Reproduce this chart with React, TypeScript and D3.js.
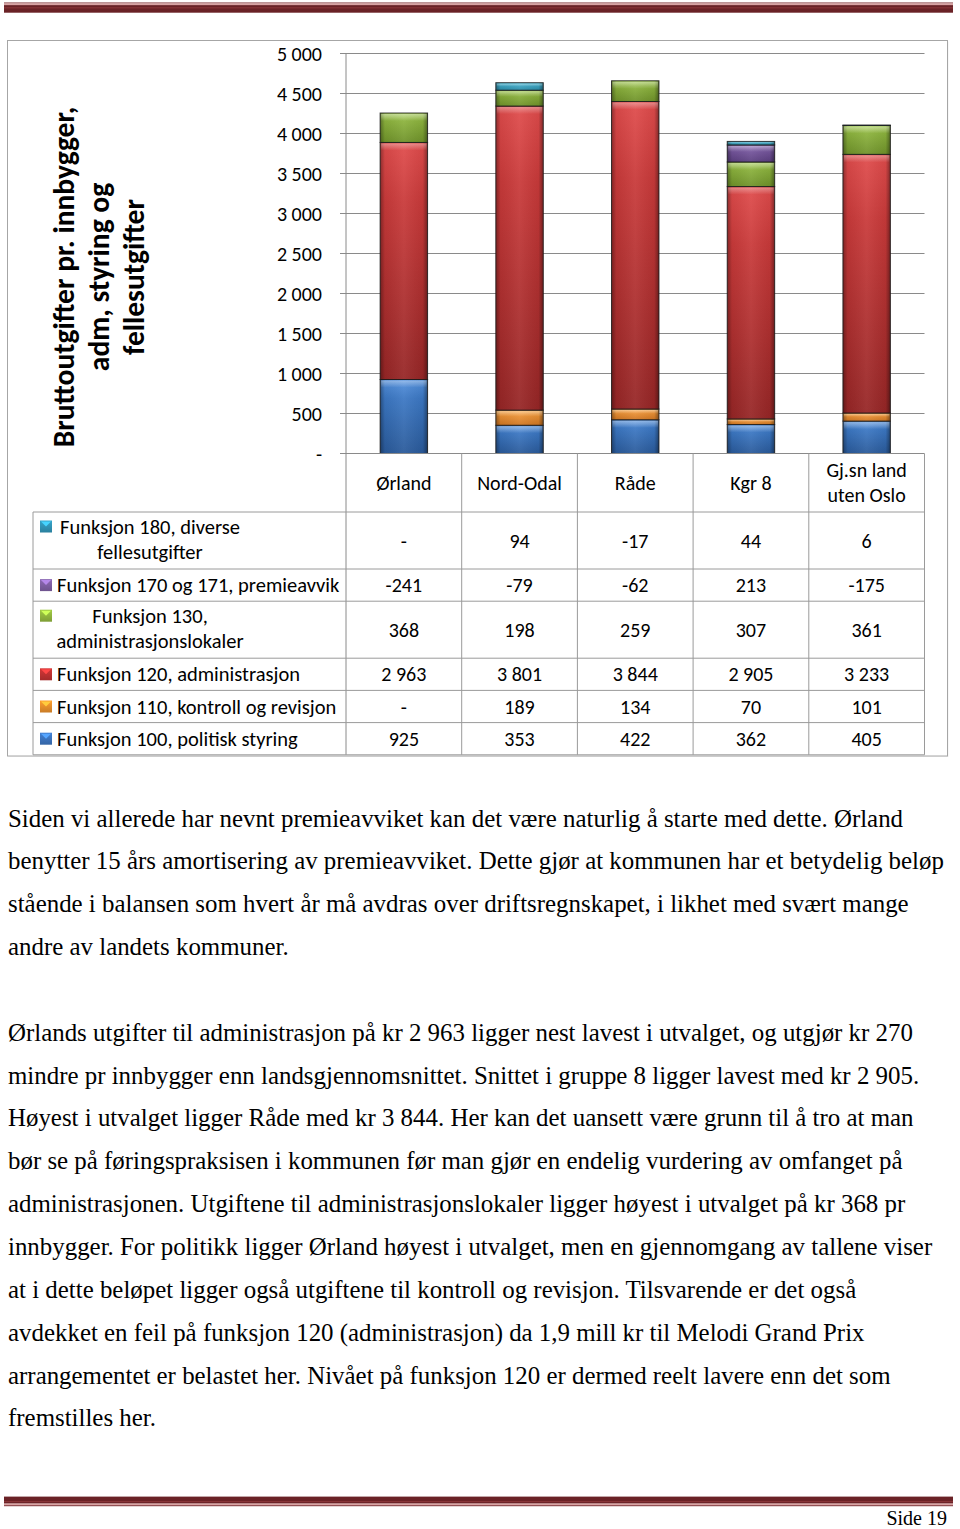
import React from "react";
import * as d3 from "d3";

// ---------- DATA ----------
const categories = ["Ørland", "Nord-Odal", "Råde", "Kgr 8", "Gj.sn land uten Oslo"];
const categoryLabelLines = [["Ørland"], ["Nord-Odal"], ["Råde"], ["Kgr 8"], ["Gj.sn land", "uten Oslo"]];

const f100 = [925, 353, 422, 362, 405];
const f110 = [null, 189, 134, 70, 101];
const f120 = [2963, 3801, 3844, 2905, 3233];
const f130 = [368, 198, 259, 307, 361];
const f170 = [-241, -79, -62, 213, -175];
const f180 = [null, 94, -17, 44, 6];

const yTicks = [0, 500, 1000, 1500, 2000, 2500, 3000, 3500, 4000, 4500, 5000];
const yTitleLines = ["Bruttoutgifter pr. innbygger,", "adm, styring og", "fellesutgifter"];

// stack order bottom -> top
const seriesKeys = ["f100", "f110", "f120", "f130", "f170", "f180"];
const seriesValues: Record<string, (number | null)[]> = { f100, f110, f120, f130, f170, f180 };
const seriesLabelLines: Record<string, string[]> = {
  f180: ["Funksjon 180, diverse", "fellesutgifter"],
  f170: ["Funksjon 170 og 171, premieavvik"],
  f130: ["Funksjon 130,", "administrasjonslokaler"],
  f120: ["Funksjon 120, administrasjon"],
  f110: ["Funksjon 110, kontroll og revisjon"],
  f100: ["Funksjon 100, politisk styring"],
};
// table order top -> bottom
const tableOrder = ["f180", "f170", "f130", "f120", "f110", "f100"];

const paragraph1 = [
  "Siden vi allerede har nevnt premieavviket kan det være naturlig å starte med dette. Ørland",
  "benytter 15 års amortisering av premieavviket. Dette gjør at kommunen har et betydelig beløp",
  "stående i balansen som hvert år må avdras over driftsregnskapet, i likhet med svært mange",
  "andre av landets kommuner.",
];
const paragraph2 = [
  "Ørlands utgifter til administrasjon på kr 2 963 ligger nest lavest i utvalget, og utgjør kr 270",
  "mindre pr innbygger enn landsgjennomsnittet. Snittet i gruppe 8 ligger lavest med kr 2 905.",
  "Høyest i utvalget ligger Råde med kr 3 844. Her kan det uansett være grunn til å tro at man",
  "bør se på føringspraksisen i kommunen før man gjør en endelig vurdering av omfanget på",
  "administrasjonen. Utgiftene til administrasjonslokaler ligger høyest i utvalget på kr 368 pr",
  "innbygger. For politikk ligger Ørland høyest i utvalget, men en gjennomgang av tallene viser",
  "at i dette beløpet ligger også utgiftene til kontroll og revisjon. Tilsvarende er det også",
  "avdekket en feil på funksjon 120 (administrasjon) da 1,9 mill kr til Melodi Grand Prix",
  "arrangementet er belastet her. Nivået på funksjon 120 er dermed reelt lavere enn det som",
  "fremstilles her.",
];
const pageLabel = "Side 19";

// ---------- STYLE ----------
const barColors: Record<string, [string, string, string]> = {
  f100: ["#5592de", "#3c78c4", "#2a5a9a"],
  f110: ["#fbb45a", "#f0983a", "#cf7622"],
  f120: ["#e04c4c", "#c93a3a", "#962626"],
  f130: ["#a9cf5c", "#8db43e", "#6f922a"],
  f170: ["#9676bd", "#7a5aa2", "#5b3f80"],
  f180: ["#66cbe4", "#45aecb", "#2a8aa6"],
};
const markerColors: Record<string, string> = {
  f180: "#2f8fb0",
  f170: "#7a5c9e",
  f130: "#8cb03c",
  f120: "#b83030",
  f110: "#e08a2a",
  f100: "#3a70b8",
};

const chartFont = "Calibri, Carlito, Lato, 'Open Sans', sans-serif";
const serifFont = "'Times New Roman', 'Liberation Serif', serif";

const locale = d3.formatLocale({ decimal: ",", thousands: " ", grouping: [3], currency: ["", ""], minus: "-" });
const fmtN = locale.format(",d");
const fmt = (v: number | null) => (v == null || v === 0 ? "-" : fmtN(v));

export default function App() {
  const W = 960;
  const H = 1529;
  const plotLeft = 346;
  const plotRight = 924.5;
  const plotTop = 53.5;
  const plotBottom = 453.5;
  const fs = 20;
  const fsLabel = 20.5;

  const y = d3.scaleLinear().domain([0, 5000]).range([plotBottom, plotTop]);
  const xCol = d3.scaleBand().domain(categories).range([plotLeft, plotRight]).padding(0);
  const xBar = d3
    .scaleBand()
    .domain(categories)
    .range([plotLeft, plotRight])
    .paddingInner(0.59)
    .paddingOuter(0.295);

  const rows = categories.map((c, i) => {
    const o: any = { cat: c };
    seriesKeys.forEach((k) => (o[k] = seriesValues[k][i] ?? 0));
    return o;
  });
  const stacked = d3.stack().keys(seriesKeys).offset(d3.stackOffsetDiverging)(rows);

  // table geometry
  const headerBottom = 512;
  const singleH = 32.2;
  const doubleH = 57;
  let acc = headerBottom;
  const tableRows = tableOrder.map((k) => {
    const h = seriesLabelLines[k].length > 1 ? doubleH : singleH;
    const r = { key: k, top: acc, h };
    acc += h;
    return r;
  });
  const tableBottom = acc;
  const labelLeft = 33;

  const gridColor = "#8a8a8a";
  const tableColor = "#9a9a9a";

  const baseLine = 826.5;
  const lineGap = 42.85;

  return (
    <svg
      width={W}
      height={H}
      viewBox={`0 0 ${W} ${H}`}
      style={{ position: "absolute", left: 0, top: 0, background: "#fff" }}
    >
      <defs>
        {seriesKeys.map((k) => (
          <linearGradient key={k} id={`g-${k}`} x1="0" y1="0" x2="0" y2="1">
            <stop offset="0" stopColor={barColors[k][0]} />
            <stop offset="0.25" stopColor={barColors[k][1]} />
            <stop offset="1" stopColor={barColors[k][2]} />
          </linearGradient>
        ))}
        <linearGradient id="hshade" x1="0" y1="0" x2="1" y2="0">
          <stop offset="0" stopColor="#000" stopOpacity="0.35" />
          <stop offset="0.1" stopColor="#000" stopOpacity="0.05" />
          <stop offset="0.5" stopColor="#fff" stopOpacity="0.06" />
          <stop offset="0.9" stopColor="#000" stopOpacity="0.05" />
          <stop offset="1" stopColor="#000" stopOpacity="0.4" />
        </linearGradient>
        <linearGradient id="topHi" x1="0" y1="0" x2="0" y2="1">
          <stop offset="0" stopColor="#fff" stopOpacity="0.35" />
          <stop offset="1" stopColor="#fff" stopOpacity="0" />
        </linearGradient>
        {tableOrder.map((k) => (
          <linearGradient key={k} id={`m-${k}`} x1="0" y1="0" x2="0" y2="1">
            <stop offset="0" stopColor={d3.color(markerColors[k])!.brighter(0.4).formatHex()} />
            <stop offset="1" stopColor={d3.color(markerColors[k])!.darker(0.3).formatHex()} />
          </linearGradient>
        ))}
        <clipPath id="plotClip">
          <rect x={plotLeft} y={plotTop - 2} width={plotRight - plotLeft} height={plotBottom - plotTop + 2} />
        </clipPath>
      </defs>

      <rect x={0} y={0} width={W} height={H} fill="#fff" />

      {/* header rule */}
      <g>
        <rect x={4} y={2.5} width={949} height={1} fill="#7a2a2e" />
        <rect x={4} y={3.5} width={949} height={1.6} fill="#d9a3a3" />
        <rect x={4} y={5.1} width={949} height={7.6} fill="#6a2226" />
        <rect x={4} y={7.4} width={949} height={0.9} fill="#8e3a3c" />
      </g>

      {/* chart frame */}
      <rect x={8.5} y={41.5} width={940} height={715.5} fill="#f2f2f2" />
      <rect x={7.5} y={40.5} width={940} height={715.5} fill="#fff" stroke="#a6a6a6" strokeWidth={1} />

      {/* y axis title */}
      <g transform={`translate(99, 277) rotate(-90)`}>
        {yTitleLines.map((t, i) => (
          <text
            key={i}
            x={0}
            y={(i - 1) * 35}
            textAnchor="middle"
            dominantBaseline="central"
            fontFamily={chartFont}
            fontWeight="bold"
            fontSize={29.5}
            fill="#000"
          >
            {t}
          </text>
        ))}
      </g>

      {/* gridlines */}
      {yTicks.map((t) => (
        <g key={t}>
          {t > 0 && <line x1={plotLeft} x2={plotRight} y1={y(t)} y2={y(t)} stroke={gridColor} strokeWidth={1} />}
          <line x1={plotLeft - 6} x2={plotLeft} y1={y(t)} y2={y(t)} stroke={gridColor} strokeWidth={1} />
          <text
            x={322}
            y={y(t)}
            textAnchor="end"
            dominantBaseline="central"
            fontFamily={chartFont}
            fontSize={fs}
            fill="#000"
          >
            {fmt(t)}
          </text>
        </g>
      ))}

      {/* bars */}
      <g clipPath="url(#plotClip)">
        {stacked.map((s) => {
          const k = s.key as string;
          return (
            <g key={k}>
              {s.map((d, i) => {
                const v0 = d[0];
                const v1 = d[1];
                if (!(v1 - v0 > 0) || v1 <= 0) return null;
                const cat = categories[i];
                const x = xBar(cat)!;
                const w = xBar.bandwidth();
                const yTop = y(v1);
                const yBot = y(Math.max(v0, 0));
                const h = yBot - yTop;
                return (
                  <g key={cat}>
                    <rect x={x} y={yTop} width={w} height={h} fill={`url(#g-${k})`} />
                    <rect x={x} y={yTop} width={w} height={h} fill="url(#hshade)" />
                    <rect x={x + 1} y={yTop + 1} width={w - 2} height={Math.min(7, h * 0.35)} fill="url(#topHi)" />
                    <rect
                      x={x}
                      y={yTop}
                      width={w}
                      height={h}
                      fill="none"
                      stroke="#1a1a1a"
                      strokeOpacity={0.85}
                      strokeWidth={1}
                    />
                  </g>
                );
              })}
            </g>
          );
        })}
      </g>

      {/* table lines */}
      <g stroke={tableColor} strokeWidth={1} fill="none">
        <line x1={plotLeft} x2={plotRight} y1={plotBottom} y2={plotBottom} stroke={gridColor} />
        <line x1={plotLeft} x2={plotLeft} y1={plotTop} y2={tableBottom} stroke={gridColor} />
        {categories.map((c) => (
          <line key={c} x1={xCol(c)! + xCol.bandwidth()} x2={xCol(c)! + xCol.bandwidth()} y1={plotBottom} y2={tableBottom} />
        ))}
        <line x1={labelLeft} x2={labelLeft} y1={headerBottom} y2={tableBottom} />
        <line x1={labelLeft} x2={plotRight} y1={headerBottom} y2={headerBottom} />
        {tableRows.map((r) => (
          <line key={r.key} x1={labelLeft} x2={plotRight} y1={r.top + r.h} y2={r.top + r.h} />
        ))}
      </g>

      {/* category headers */}
      {categories.map((c, i) => {
        const lines = categoryLabelLines[i];
        const cx = xCol(c)! + xCol.bandwidth() / 2;
        const cy = (plotBottom + headerBottom) / 2;
        return lines.map((t, j) => (
          <text
            key={c + j}
            x={cx}
            y={cy + (j - (lines.length - 1) / 2) * 25}
            textAnchor="middle"
            dominantBaseline="central"
            fontFamily={chartFont}
            fontSize={fs}
            fill="#000"
          >
            {t}
          </text>
        ));
      })}

      {/* table rows */}
      {tableRows.map((r) => {
        const lines = seriesLabelLines[r.key];
        const multi = lines.length > 1;
        const firstY = multi ? r.top + 14.5 : r.top + r.h / 2;
        return (
          <g key={r.key}>
            <g transform={`translate(40, ${firstY - 6})`}>
              <rect x={0} y={0} width={12} height={12} fill={`url(#m-${r.key})`} />
              <polygon
                points="1,1 11,1 6,6"
                fill={d3.color(markerColors[r.key])!.brighter(1.1).formatHex()}
              />
            </g>
            {lines.map((t, j) => (
              <text
                key={j}
                x={multi ? 150 : 57}
                y={firstY + j * 25.5}
                textAnchor={multi ? "middle" : "start"}
                dominantBaseline="central"
                fontFamily={chartFont}
                fontSize={fsLabel}
                fill="#000"
              >
                {t}
              </text>
            ))}
            {categories.map((c, i) => (
              <text
                key={c}
                x={xCol(c)! + xCol.bandwidth() / 2}
                y={r.top + r.h / 2}
                textAnchor="middle"
                dominantBaseline="central"
                fontFamily={chartFont}
                fontSize={fs}
                fill="#000"
              >
                {fmt(seriesValues[r.key][i])}
              </text>
            ))}
          </g>
        );
      })}

      {/* body text */}
      {paragraph1.map((t, i) => (
        <text key={"p1" + i} x={8} y={baseLine + i * lineGap} fontFamily={serifFont} fontSize={24.9} fill="#000">
          {t}
        </text>
      ))}
      {paragraph2.map((t, i) => (
        <text
          key={"p2" + i}
          x={8}
          y={baseLine + (i + paragraph1.length + 1) * lineGap}
          fontFamily={serifFont}
          fontSize={24.9}
          fill="#000"
        >
          {t}
        </text>
      ))}

      {/* footer rule */}
      <g>
        <rect x={4} y={1496.6} width={949} height={7} fill="#6a2226" />
        <rect x={4} y={1501.2} width={949} height={0.9} fill="#8e3a3c" />
        <rect x={4} y={1503.6} width={949} height={1.6} fill="#d9a3a3" />
        <rect x={4} y={1505.2} width={949} height={1} fill="#7a2a2e" />
      </g>
      <text x={947} y={1525} textAnchor="end" fontFamily={serifFont} fontSize={20} fill="#000">
        {pageLabel}
      </text>
    </svg>
  );
}
